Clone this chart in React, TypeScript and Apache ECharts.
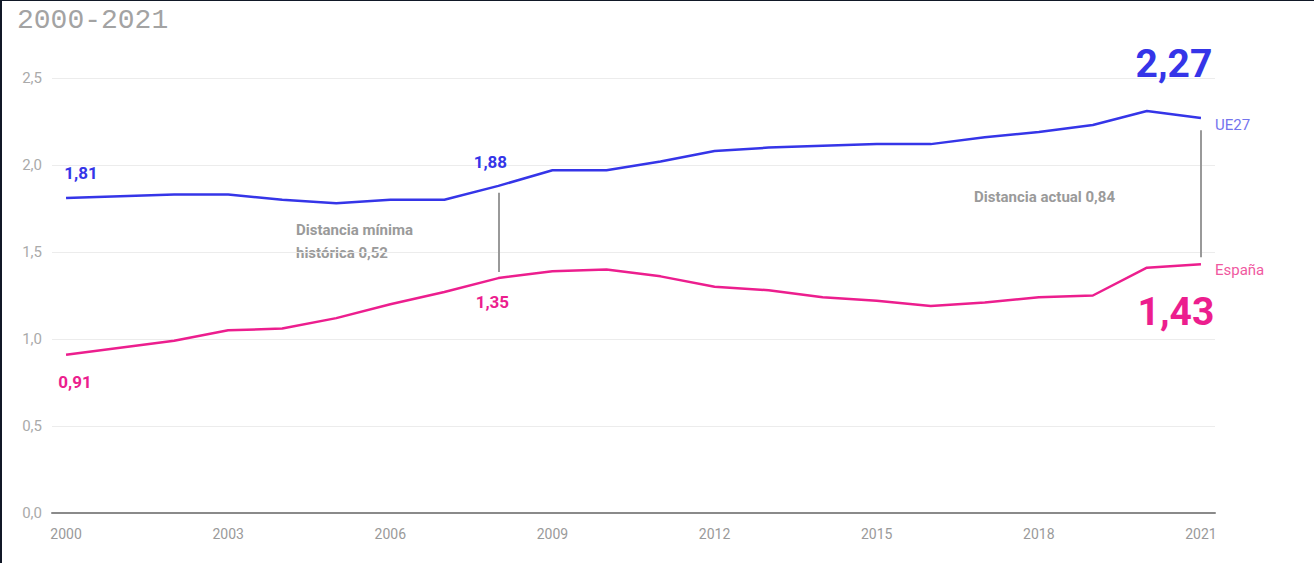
import React, { useEffect, useRef } from "react";
import * as echarts from "echarts";

const years = [2000, 2001, 2002, 2003, 2004, 2005, 2006, 2007, 2008, 2009, 2010, 2011, 2012, 2013, 2014, 2015, 2016, 2017, 2018, 2019, 2020, 2021];
const ue27 = [1.81, 1.82, 1.83, 1.83, 1.8, 1.78, 1.8, 1.8, 1.88, 1.97, 1.97, 2.02, 2.08, 2.1, 2.11, 2.12, 2.12, 2.16, 2.19, 2.23, 2.31, 2.27];
const espana = [0.91, 0.95, 0.99, 1.05, 1.06, 1.12, 1.2, 1.27, 1.35, 1.39, 1.4, 1.36, 1.3, 1.28, 1.24, 1.22, 1.19, 1.21, 1.24, 1.25, 1.41, 1.43];
const xTicks = [2000, 2003, 2006, 2009, 2012, 2015, 2018, 2021];
const title = "2000-2021";
const note1 = "Distancia mínima\nhistórica 0,52";
const note2 = "Distancia actual 0,84";

const BLUE = "#3535e8";
const PINK = "#ec1e8e";
const FONT = "Roboto, 'Noto Sans', sans-serif";

const fmt = (v: number) => v.toFixed(2).replace(".", ",");

function smallLabel(color: string, pos: string, offset: number[]) {
  return {
    show: true,
    position: pos,
    offset,
    color,
    fontFamily: FONT,
    fontWeight: "bold",
    fontSize: 17,
    formatter: (p: any) => fmt(p.value[1]),
  };
}
function bigLabel(color: string, pos: string, offset: number[]) {
  return {
    show: true,
    position: pos,
    offset,
    color,
    fontFamily: FONT,
    fontWeight: "bold",
    fontSize: 39,
    formatter: (p: any) => fmt(p.value[1]),
  };
}

export default function App() {
  const ref = useRef<HTMLDivElement>(null);
  useEffect(() => {
    document.body.style.margin = "0";
    const chart = echarts.init(ref.current!, null, { renderer: "svg" });
    const blueLabels: Record<number, any> = {
      2000: smallLabel(BLUE, "top", [15, -12]),
      2008: smallLabel(BLUE, "top", [-8, -10]),
      2021: bigLabel(BLUE, "top", [-27, -30]),
    };
    const pinkLabels: Record<number, any> = {
      2000: smallLabel(PINK, "bottom", [9, 14]),
      2008: smallLabel(PINK, "bottom", [-6, 10]),
      2021: bigLabel(PINK, "bottom", [-25, 23]),
    };
    const mk = (vals: number[], labels: Record<number, any>) =>
      years.map((y, i) => (labels[y] ? { value: [y, vals[i]], label: labels[y] } : { value: [y, vals[i]] }));

    chart.setOption({
      animation: false,
      backgroundColor: "#ffffff",
      grid: { left: 52, right: 99, top: 78, bottom: 50 },
      xAxis: {
        type: "value",
        min: 1999.74,
        max: 2021.26,
        splitLine: { show: false },
        axisTick: { show: false },
        axisLine: { show: true, lineStyle: { color: "#8a8a8a", width: 2 } },
        axisLabel: {
          customValues: xTicks,
          color: "#9a9a9a",
          fontFamily: FONT,
          fontSize: 14,
          margin: 14,
          formatter: (v: number) => String(v),
        },
      },
      yAxis: {
        type: "value",
        min: 0,
        max: 2.5,
        interval: 0.5,
        axisLine: { show: false },
        axisTick: { show: false },
        splitLine: { lineStyle: { color: "#ececec", width: 1 } },
        axisLabel: {
          color: "#aaaaaa",
          fontFamily: FONT,
          fontSize: 15,
          margin: 10,
          formatter: (v: number) => v.toFixed(1).replace(".", ","),
        },
      },
      series: [
        {
          type: "line",
          name: "UE27",
          data: mk(ue27, blueLabels),
          showSymbol: true,
          symbol: "circle",
          symbolSize: 0,
          label: { show: false },
          lineStyle: { color: BLUE, width: 2.5 },
          itemStyle: { color: BLUE },
          endLabel: {
            show: true,
            formatter: "UE27",
            color: "#7474ee",
            fontFamily: FONT,
            fontSize: 15,
            distance: 14,
            offset: [0, 7],
          },
          markLine: {
            silent: true,
            symbol: "none",
            label: { show: false },
            lineStyle: { color: "#999999", width: 2, type: "solid" },
            data: [
              [{ coord: [2008, 1.84] }, { coord: [2008, 1.385] }],
              [{ coord: [2021, 2.2] }, { coord: [2021, 1.47] }],
            ],
          },
          z: 3,
        },
        {
          type: "line",
          name: "España",
          data: mk(espana, pinkLabels),
          showSymbol: true,
          symbol: "circle",
          symbolSize: 0,
          label: { show: false },
          lineStyle: { color: PINK, width: 2.5 },
          itemStyle: { color: PINK },
          endLabel: {
            show: true,
            formatter: "España",
            color: "#f0599f",
            fontFamily: FONT,
            fontSize: 15,
            distance: 14,
            offset: [0, 6],
          },
          z: 3,
        },
      ],
      graphic: [
        { type: "rect", shape: { x: 0, y: 0, width: 2, height: 563 }, style: { fill: "#111827" } },
        { type: "rect", shape: { x: 0, y: 0, width: 1314, height: 1 }, style: { fill: "#111827" } },
        {
          type: "text",
          x: 17,
          y: 6,
          style: { text: title, fill: "#a3a3a3", font: "28px 'Liberation Mono', 'DejaVu Sans Mono', monospace" },
        },
        {
          type: "text",
          x: 296,
          y: 218,
          style: { text: note1, fill: "#9a9a9a", font: `bold 15px ${FONT}`, lineHeight: 23 },
        },
        {
          type: "text",
          x: 974,
          y: 189,
          style: { text: note2, fill: "#9a9a9a", font: `bold 15px ${FONT}` },
        },
      ],
    });
    return () => chart.dispose();
  }, []);
  return <div ref={ref} style={{ width: 1314, height: 563 }} />;
}
